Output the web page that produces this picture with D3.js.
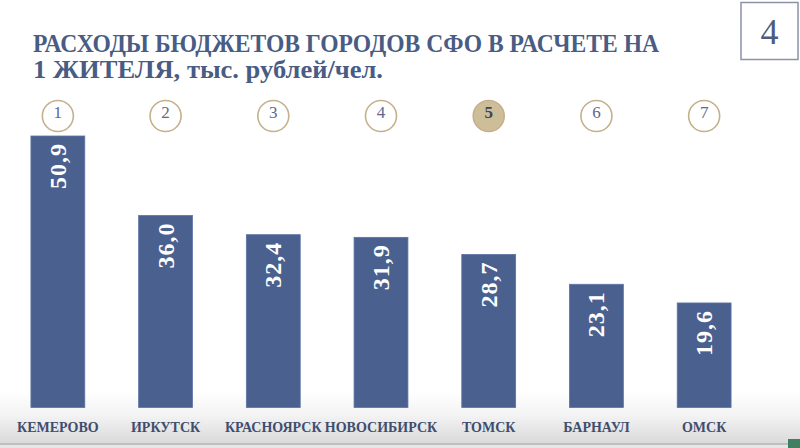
<!DOCTYPE html>
<html lang="ru">
<head>
<meta charset="UTF-8">
<script src="https://cdn.jsdelivr.net/npm/d3@7"></script>
<style>
  html, body { margin: 0; padding: 0; background: #fff; }
  svg { display: block; }
</style>
</head>
<body>
<svg id="chart" width="800" height="448"></svg>
<script>
// data
const cities = ["КЕМЕРОВО", "ИРКУТСК", "КРАСНОЯРСК", "НОВОСИБИРСК", "ТОМСК", "БАРНАУЛ", "ОМСК"];
const spending = [50.9, 36.0, 32.4, 31.9, 28.7, 23.1, 19.6];
const ranks = [1, 2, 3, 4, 5, 6, 7];
const highlighted = 5;
const titleLines = ["РАСХОДЫ БЮДЖЕТОВ ГОРОДОВ СФО В РАСЧЕТЕ НА", "1 ЖИТЕЛЯ, тыс. рублей/чел."];
const slideNumber = "4";

const W = 800, H = 448;
const svg = d3.select("#chart");
const serif = "'Liberation Serif', 'DejaVu Serif', serif";
const navy = "#485c84";

// background with the grey floor at the bottom
const defs = svg.append("defs");
const grad = defs.append("linearGradient").attr("id", "floor")
    .attr("x1", 0).attr("y1", 0).attr("x2", 0).attr("y2", 1);
grad.append("stop").attr("offset", "0%").attr("stop-color", "#ffffff");
grad.append("stop").attr("offset", "45%").attr("stop-color", "#f3f3f3");
grad.append("stop").attr("offset", "100%").attr("stop-color", "#d9d9d9");

svg.append("rect").attr("width", W).attr("height", H).attr("fill", "#fff");
svg.append("rect").attr("x", 0).attr("y", 392).attr("width", W).attr("height", 52).attr("fill", "url(#floor)");
svg.append("rect").attr("x", 0).attr("y", 443).attr("width", W).attr("height", 2).attr("fill", "#bfbfbf");
svg.append("rect").attr("x", 0).attr("y", 445).attr("width", W).attr("height", 3).attr("fill", "#e6e6e6");
svg.append("rect").attr("x", 788).attr("y", 439).attr("width", 12).attr("height", 9).attr("fill", "#3f7f62");

// title, squeezed to the width of the condensed slide font
const title = svg.append("g")
    .attr("font-family", serif).attr("font-weight", "bold").attr("font-size", 25)
    .attr("fill", navy);
title.append("text")
    .attr("x", 33).attr("y", 52)
    .attr("textLength", 626).attr("lengthAdjust", "spacingAndGlyphs")
    .text(titleLines[0]);
title.append("text")
    .attr("x", 33).attr("y", 78)
    .attr("textLength", 350).attr("lengthAdjust", "spacingAndGlyphs")
    .text(titleLines[1]);

// slide number box
svg.append("rect").attr("x", 741).attr("y", 2.5).attr("width", 57).attr("height", 57)
    .attr("fill", "#fff").attr("stroke", "#8a93a8").attr("stroke-width", 1.5);
svg.append("text").attr("x", 769.5).attr("y", 44)
    .attr("text-anchor", "middle")
    .attr("font-family", serif).attr("font-size", 36)
    .attr("fill", "#4d5c7e").text(slideNumber);

// scales
const x = d3.scaleBand().domain(cities).range([4, 758]).paddingInner(0.5).paddingOuter(0.25);
const y = d3.scaleLinear().domain([0, 50.9]).range([407.5, 136]);

// bars
svg.append("g").selectAll("rect").data(cities).join("rect")
    .attr("x", d => x(d))
    .attr("y", (d, i) => y(spending[i]))
    .attr("width", x.bandwidth())
    .attr("height", (d, i) => y(0) - y(spending[i]))
    .attr("fill", "#4a6190")
    .attr("stroke", "#5c73a3").attr("stroke-width", 0.8);

// values, rotated inside the bars
svg.append("g").selectAll("text").data(cities).join("text")
    .attr("transform", (d, i) => `translate(${x(d) + x.bandwidth() / 2 + 8},${y(spending[i]) + 7}) rotate(-90)`)
    .attr("text-anchor", "end")
    .attr("font-family", serif).attr("font-weight", "bold").attr("font-size", 24)
    .attr("letter-spacing", 1)
    .attr("fill", "#fff")
    .text((d, i) => d3.format(".1f")(spending[i]).replace(".", ","));

// rank badges
const badges = svg.append("g").selectAll("g").data(cities).join("g")
    .attr("transform", d => `translate(${x(d) + x.bandwidth() / 2},116)`);
badges.append("ellipse")
    .attr("rx", 15.5).attr("ry", 15.5)
    .attr("fill", (d, i) => ranks[i] === highlighted ? "#cdbd98" : "#fff")
    .attr("stroke", "#c4b18c").attr("stroke-width", 1.6);
badges.append("text")
    .attr("y", 2)
    .attr("text-anchor", "middle")
    .attr("font-family", serif).attr("font-size", 17)
    .attr("font-weight", (d, i) => ranks[i] === highlighted ? "bold" : "normal")
    .attr("fill", (d, i) => ranks[i] === highlighted ? "#3d4659" : "#5b6a8c")
    .text((d, i) => ranks[i]);

// city labels
svg.append("g").selectAll("text").data(cities).join("text")
    .attr("x", d => x(d) + x.bandwidth() / 2)
    .attr("y", 432)
    .attr("text-anchor", "middle")
    .attr("font-family", serif).attr("font-weight", "bold").attr("font-size", 14)
    .attr("fill", "#3f4d6e")
    .text(d => d);
</script>
</body>
</html>
